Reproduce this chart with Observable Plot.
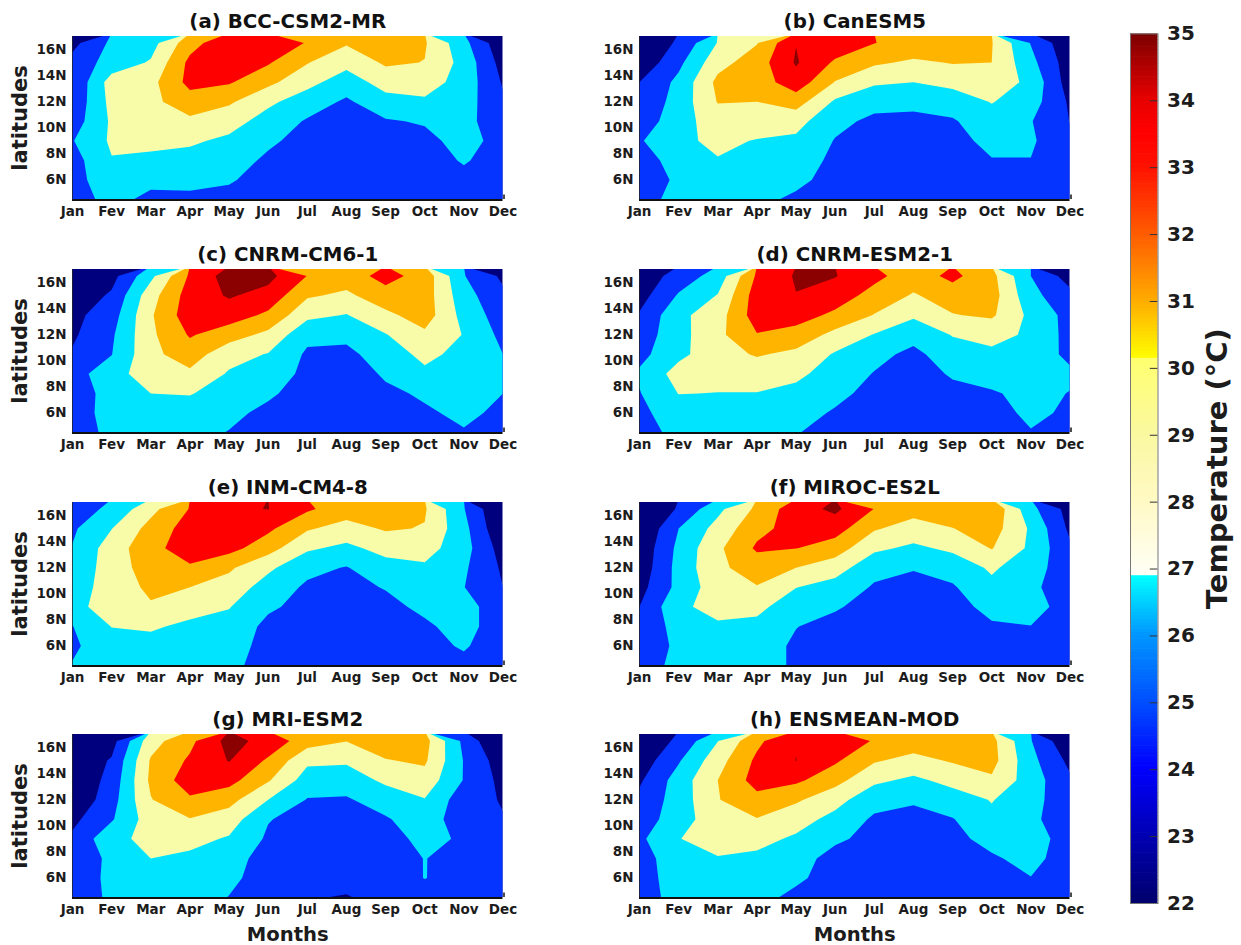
<!DOCTYPE html>
<html>
<head>
<meta charset="utf-8">
<script src="https://cdn.jsdelivr.net/npm/d3@7"></script>
<script src="https://cdn.jsdelivr.net/npm/@observablehq/plot@0.6"></script>
<style>
html,body{margin:0;padding:0;background:#fff}
#chart{position:relative;width:1241px;height:945px;overflow:hidden;background:#fff}
#chart svg{position:absolute;display:block;max-width:none}
</style>
</head>
<body>
<div id="chart"></div>
<script>
const monthNames = ["Jan","Fev","Mar","Apr","May","Jun","Jul","Aug","Sep","Oct","Nov","Dec"];
const monthTicks = [1,2,3,4,5,6,7,8,9,10,11,12];
const latTicks = [6,8,10,12,14,16];
const gridRows = 9;                 // latitudes 4.5N to 16.5N, every 1.5 degrees
const bandThresholds = [20,24,26,28,30,32,34];
const bandDomain = [24,26,28,30,32,34];
const bandColors = ["#00007f","#0533ff","#00e4ff","#f8fca8","#ffb400","#ff0000","#8b0000"];
const barStops = [22,23,24,25,26,26.87,26.88,28,29,30.1,30.11,31,32,33,33.5,34,35];
const barColors = ["#00006e","#0000b4","#0000ff","#0050ff","#0098ff","#00ffff","#fffff6","#fff9c4","#faf9a0","#ffff70","#ffff00","#ffaa00","#ff5a00","#ff1000","#ff0000","#e60000","#780000"];
const barTicks = [22,23,24,25,26,27,28,29,30,31,32,33,34,35];

// temperature by month (each line) and latitude (4.5N ... 16.5N)
const bcc = [
[25.3,25.4,25.2,25.9,25.0,24.5,24.2,24.7,23.4],
[26.5,27.0,27.9,28.3,28.3,28.6,28.9,26.8,26.4],
[25.6,26.4,27.5,28.6,29.1,29.5,29.4,28.2,27.2],
[25.6,26.5,27.3,28.3,29.6,31.1,32.6,32.5,31.2],
[25.4,26.2,27.0,27.6,28.8,30.3,32.2,32.9,33.5],
[24.8,25.2,25.6,26.4,27.2,28.4,30.5,32.2,33.0],
[24.4,24.6,24.8,25.2,25.8,27.0,28.6,30.1,31.9],
[24.3,24.5,24.7,25.0,25.3,25.7,27.0,28.6,30.2],
[24.6,24.7,24.9,25.2,25.8,27.3,28.8,30.3,32.0],
[24.6,24.8,25.0,25.4,26.2,27.7,28.9,29.95,30.2],
[24.9,25.4,26.2,26.8,26.6,26.9,27.2,27.3,26.6],
[25.1,25.2,25.0,25.2,24.8,24.3,23.8,23.2,22.5]];
const canesm = [
[25.4,25.0,24.9,25.8,24.8,24.4,24.0,22.5,22.3],
[26.5,26.3,27.0,27.6,27.2,26.8,26.5,25.5,24.3],
[26.9,27.2,27.9,28.4,29.0,30.1,30.5,29.3,28.1],
[26.4,26.7,27.3,27.9,29.0,30.0,30.9,31.0,29.9],
[25.7,26.4,26.9,27.6,28.7,30.9,33.2,34.2,33.95],
[25.2,25.4,25.6,25.9,26.5,27.7,29.9,31.7,33.2],
[24.9,25.0,25.1,25.2,25.6,26.6,28.3,30.3,32.05],
[25.0,25.0,25.1,25.3,25.6,26.4,28.0,29.7,31.2],
[24.9,25.0,25.1,25.3,25.8,26.9,28.6,30.1,31.3],
[25.1,25.3,25.9,26.6,27.2,28.1,29.2,30.0,30.1],
[25.0,25.3,25.95,26.3,26.1,26.9,27.5,26.6,25.9],
[25.1,25.0,24.9,24.3,23.95,23.7,23.0,22.9,22.4]];
const cnrmCm = [
[25.2,25.1,25.0,25.3,24.2,23.7,23.45,22.6,22.3],
[26.4,26.7,26.7,27.0,25.95,25.7,25.1,24.3,23.3],
[26.9,27.2,28.0,29.3,29.5,29.6,29.75,29.2,27.5],
[26.8,27.2,28.1,29.6,31.0,32.2,33.15,32.9,32.3],
[25.9,26.6,27.2,27.8,28.7,30.9,33.0,34.2,34.9],
[25.4,25.4,26.4,27.1,27.9,29.5,31.6,33.3,34.6],
[24.9,25.0,24.9,25.5,25.7,26.5,28.5,30.25,31.95],
[24.8,24.9,25.0,25.2,25.5,26.5,27.9,29.6,31.0],
[25.0,25.2,25.7,26.2,27.0,27.9,29.5,31.2,32.7],
[25.5,25.8,26.2,27.6,28.5,29.6,31.0,31.0,31.2],
[25.9,26.3,26.5,26.9,27.4,27.9,27.3,26.8,26.1],
[25.4,25.7,26.0,26.2,26.0,25.46,25.0,24.4,23.6]];
const cnrmEsm = [
[25.3,25.6,25.9,26.3,25.4,24.9,24.2,23.2,22.6],
[26.5,26.9,28.05,28.8,27.5,27.3,27.5,26.2,24.9],
[26.9,27.3,27.95,28.9,29.2,29.5,29.1,28.1,26.8],
[26.4,27.3,27.95,28.8,30.2,31.9,33.0,33.0,32.3],
[26.1,26.7,27.5,28.4,29.5,31.3,32.8,33.95,34.2],
[25.3,25.8,26.5,27.2,27.8,29.4,31.6,33.0,34.1],
[24.9,25.1,25.4,25.9,26.6,27.9,29.9,31.3,32.5],
[24.8,24.9,25.0,25.2,25.5,26.7,28.3,29.8,31.0],
[24.9,25.1,25.5,26.2,27.1,28.1,29.9,31.0,32.5],
[25.0,25.3,25.85,26.6,27.6,28.6,30.3,30.85,30.6],
[25.9,26.4,26.4,26.9,27.0,27.7,27.5,26.6,26.0],
[25.3,25.7,25.95,26.3,25.6,25.3,25.3,24.6,23.1]];
const inm = [
[26.1,25.7,25.95,27.4,27.0,26.8,26.1,25.7,25.1],
[26.8,27.1,28.05,28.9,28.9,28.8,29.0,27.95,26.4],
[26.9,27.2,28.3,29.8,30.4,31.1,31.3,30.7,29.4],
[26.9,27.2,27.5,28.9,30.0,31.7,33.2,32.9,32.1],
[26.5,26.9,27.3,28.1,29.2,30.3,32.7,33.3,33.7],
[25.2,25.3,25.5,26.3,27.1,28.4,30.8,32.4,34.05],
[24.9,25.0,25.2,25.4,25.7,26.5,28.3,30.2,32.3],
[24.7,24.8,24.9,25.1,25.5,25.9,27.5,29.3,30.9],
[24.9,25.0,25.2,25.5,26.1,27.2,28.7,30.2,30.9],
[25.1,25.4,25.7,26.4,27.0,27.7,28.8,29.9,30.2],
[25.5,26.2,26.7,26.7,26.05,26.3,26.8,26.6,26.1],
[25.0,24.9,24.9,24.9,24.0,23.7,23.1,22.2,21.8]];
const miroc = [
[25.4,25.2,24.5,24.0,23.3,22.7,22.5,22.0,22.0],
[26.35,26.25,26.75,27.6,26.6,26.7,26.5,26.0,24.2],
[26.8,27.1,27.7,28.7,29.1,29.6,29.6,28.7,27.5],
[26.6,26.9,27.5,28.5,29.9,30.9,32.3,31.4,30.4],
[25.8,25.7,26.05,26.9,28.05,30.0,32.05,32.8,33.2],
[25.1,25.2,25.4,26.2,27.2,28.9,31.0,32.9,34.4],
[24.8,24.9,25.0,25.3,25.8,26.6,28.4,30.2,31.95],
[24.9,25.0,25.1,25.2,25.5,26.1,27.6,29.2,30.7],
[25.0,25.1,25.2,25.4,25.8,26.8,28.4,29.95,31.0],
[25.2,25.4,25.8,26.5,27.5,28.3,30.1,30.9,31.7],
[25.1,25.4,25.95,27.0,26.4,26.8,27.6,27.7,26.6],
[25.1,25.1,25.0,24.9,24.9,24.9,24.3,23.6,23.2]];
const mri = [
[25.2,25.0,24.8,24.4,23.5,22.3,22.2,22.4,22.4],
[26.25,26.4,26.4,27.4,25.8,25.2,24.7,24.2,23.2],
[26.7,27.1,28.0,28.6,29.0,29.9,30.4,30.2,29.2],
[26.8,27.1,27.6,28.6,29.9,31.7,33.1,32.3,31.5],
[25.95,26.4,26.6,27.8,29.0,30.7,32.7,34.1,34.7],
[25.1,25.2,25.4,25.7,26.1,28.0,30.2,31.7,33.3],
[24.1,24.7,24.8,25.0,25.3,25.9,27.1,28.4,30.9],
[23.9,24.5,24.8,25.0,25.3,25.8,26.9,28.3,30.05],
[24.5,24.9,25.0,25.3,25.8,26.9,28.4,29.9,31.0],
[25.1,26.05,26.05,26.5,27.1,27.9,29.2,30.3,30.7],
[25.2,25.2,25.3,25.76,24.8,24.84,25.9,25.9,25.5],
[25.0,25.0,24.7,24.4,24.1,23.85,23.4,22.9,21.6]];
const ensmean = [
[25.3,25.4,25.2,25.6,25.2,24.5,23.7,22.8,22.4],
[26.57,26.65,27.1,27.95,26.8,26.9,26.9,25.8,24.4],
[26.9,27.2,27.9,28.7,29.6,29.9,30.0,29.2,27.95],
[26.5,26.9,27.6,28.6,29.9,31.4,32.8,32.4,31.55],
[25.6,26.3,26.9,27.7,28.8,30.3,32.4,34.03,33.9],
[25.1,25.3,25.2,26.4,27.4,28.7,30.7,32.3,33.6],
[24.9,25.0,25.1,25.3,25.7,26.7,28.4,30.2,31.8],
[24.9,25.0,25.1,25.2,25.5,26.2,27.6,29.4,31.0],
[25.0,25.1,25.2,25.5,25.9,27.1,28.6,30.2,31.0],
[25.2,25.4,25.75,26.6,27.6,28.1,29.7,30.7,30.6],
[25.3,25.95,26.6,27.0,26.5,26.8,27.0,26.6,26.1],
[25.0,25.0,25.0,25.0,24.6,24.5,24.3,23.5,22.3]];

const panels = [
  {title:"(a) BCC-CSM2-MR",  grid:bcc,     col:0, top:36},
  {title:"(b) CanESM5",      grid:canesm,  col:1, top:36},
  {title:"(c) CNRM-CM6-1",   grid:cnrmCm,  col:0, top:269},
  {title:"(d) CNRM-ESM2-1",  grid:cnrmEsm, col:1, top:269},
  {title:"(e) INM-CM4-8",    grid:inm,     col:0, top:502},
  {title:"(f) MIROC-ES2L",   grid:miroc,   col:1, top:502},
  {title:"(g) MRI-ESM2",     grid:mri,     col:0, top:734},
  {title:"(h) ENSMEAN-MOD",  grid:ensmean, col:1, top:734}
];

const chart = document.getElementById("chart");
const font = "'DejaVu Sans', sans-serif";
const inkColor = "#1c1c1c";

function drawPanel(p) {
  const left = p.col === 0 ? 0 : 600;
  const marginLeft = p.col === 0 ? 72 : 39;
  const frameW = 430.5, frameH = 163;
  const marginTop = 36, marginRight = 20;
  const bottomRow = p.top === 734;
  const marginBottom = bottomRow ? 48 : 30;
  const marks = [
    Plot.contour(d3.transpose(p.grid).flat(), {
      width: 12, height: gridRows,
      x1: 0.5, x2: 12.5, y1: 3.75, y2: 17.25,
      fill: Plot.identity, thresholds: bandThresholds, clip: true
    }),
    Plot.axisX(monthTicks, {tickSize: 0, tickPadding: 7, tickFormat: d => monthNames[d-1], fontSize: 13.5, label: null, fill: inkColor}),
    Plot.axisY(latTicks, {tickSize: 0, tickPadding: 6, tickFormat: d => d + "N", fontSize: 13.5, label: null, fill: inkColor}),
    Plot.ruleY([4.5], {stroke: "#111", strokeWidth: 2, dy: 0.5}),
    Plot.ruleX([1], {stroke: "#222", strokeWidth: 0.8}),
    Plot.ruleX([12], {y1: 4.5, y2: 4.85, stroke: "#111", strokeWidth: 1.5, dx: 1}),
    Plot.text([p.title], {frameAnchor: "top", lineAnchor: "bottom", dy: -9, fontSize: 19.8, fontWeight: 700, fill: "#111"})
  ];
  if (p.col === 0) marks.push(Plot.text(["latitudes"], {frameAnchor: "left", textAnchor: "middle", rotate: -90, dx: -52, fontSize: 21, fontWeight: 700, fill: inkColor}));
  if (bottomRow) marks.push(Plot.text(["Months"], {frameAnchor: "bottom", lineAnchor: "middle", dy: 37, fontSize: 19.6, fontWeight: 700, fill: inkColor}));
  const svg = Plot.plot({
    width: marginLeft + frameW + marginRight,
    height: marginTop + frameH + marginBottom,
    marginLeft, marginRight, marginTop, marginBottom,
    x: {domain: [1, 12]},
    y: {domain: [4.5, 17]},
    color: {type: "threshold", domain: bandDomain, range: bandColors},
    style: {background: "transparent", fontFamily: font, fontWeight: 700},
    marks
  });
  svg.style.left = left + "px";
  svg.style.top = (p.top - marginTop) + "px";
  chart.appendChild(svg);
}
panels.forEach(drawPanel);

// colour bar
const barSteps = d3.range(22, 35, 0.05);
const bar = Plot.plot({
  width: 131, height: 945,
  marginLeft: 20, marginRight: 83.5, marginTop: 33.4, marginBottom: 42,
  x: {domain: [0, 1], axis: null},
  y: {domain: [22, 35]},
  color: {type: "linear", domain: barStops, range: barColors, interpolate: "rgb"},
  style: {background: "transparent", fontFamily: font, fontWeight: 700},
  marks: [
    Plot.rect(barSteps, {x1: 0, x2: 1, y1: d => d, y2: d => Math.min(35, d + 0.06), fill: d => d, inset: 0}),
    Plot.ruleY(barTicks.slice(1, -1), {x1: 0.72, x2: 1, stroke: "#333", strokeWidth: 1}),
    Plot.frame({stroke: "#777", strokeWidth: 1}),
    Plot.axisY(barTicks, {anchor: "right", tickSize: 0, tickPadding: 9, tickFormat: d => String(d), fontSize: 20, label: null, fill: inkColor}),
    Plot.text(["Temperature (°C)"], {frameAnchor: "right", textAnchor: "middle", rotate: -90, dx: 60, fontSize: 29, fontWeight: 700, fill: inkColor})
  ]
});
bar.style.left = "1110px";
bar.style.top = "0px";
chart.appendChild(bar);
</script>
</body>
</html>
